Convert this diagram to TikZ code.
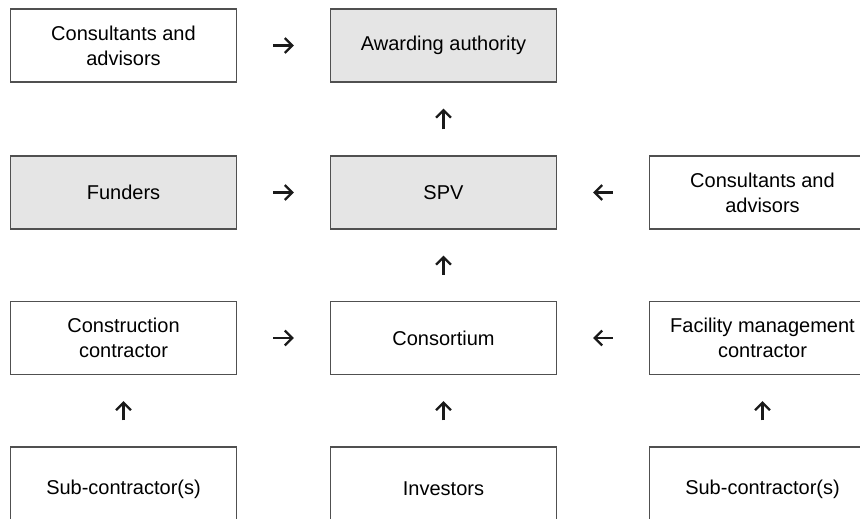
\documentclass[tikz,border=0pt]{standalone}
\usepackage{fontspec}
\setmainfont{Liberation Sans}
\usetikzlibrary{arrows.meta}
\definecolor{boxline}{HTML}{505050}
\definecolor{boxfill}{HTML}{E5E5E5}
\definecolor{arrowc}{HTML}{1A1A1A}
\begin{document}
\begin{tikzpicture}[x=1pt,y=-1pt,
  box/.style={draw=boxline, line width=1.3pt, minimum width=226pt, minimum height=73pt,
    align=center, inner sep=0pt, font=\fontsize{20}{25}\selectfont},
  shaded/.style={box, fill=boxfill},
  tall/.style={minimum height=84pt},
  conn/.style={-{Straight Barb[length=7.5pt,width=15pt,line width=2.2pt]}, line width=2.2pt, draw=arrowc},
  hconn/.style={conn, shorten <=36pt, shorten >=36pt},
  vconn/.style={conn, shorten <=26pt, shorten >=26pt}]
\clip (0,0) rectangle (860,519);
\useasboundingbox (0,0) rectangle (860,519);
% row 1
\node[box]    (cons1) at (123.5,45.5) {Consultants and\\advisors};
\node[shaded] (award) at (443.5,45.5) {Awarding authority};
% row 2
\node[shaded] (fund)  at (123.5,192.5) {Funders};
\node[shaded] (spv)   at (443.5,192.5) {SPV};
\node[box]    (cons2) at (762.5,192.5) {Consultants and\\advisors};
% row 3
\node[box]    (cc)    at (123.5,338) {Construction\\contractor};
\node[box]    (consort) at (443.5,338) {Consortium};
\node[box]    (fm)    at (762.5,338) {Facility management\\contractor};
% row 4
\node[box,tall] (sub1) at (123.5,489) {Sub-contractor(s)};
\node[box,tall] (inv)  at (443.5,489) {Investors};
\node[box,tall] (sub2) at (762.5,489) {Sub-contractor(s)};
% connectors
\draw[hconn] (cons1) -- (award);
\draw[vconn] (spv) -- (award);
\draw[hconn] (fund) -- (spv);
\draw[hconn] (cons2) -- (spv);
\draw[vconn] (consort) -- (spv);
\draw[hconn] (cc) -- (consort);
\draw[hconn] (fm) -- (consort);
\draw[vconn] (sub1) -- (cc);
\draw[vconn] (inv) -- (consort);
\draw[vconn] (sub2) -- (fm);
\end{tikzpicture}
\end{document}
